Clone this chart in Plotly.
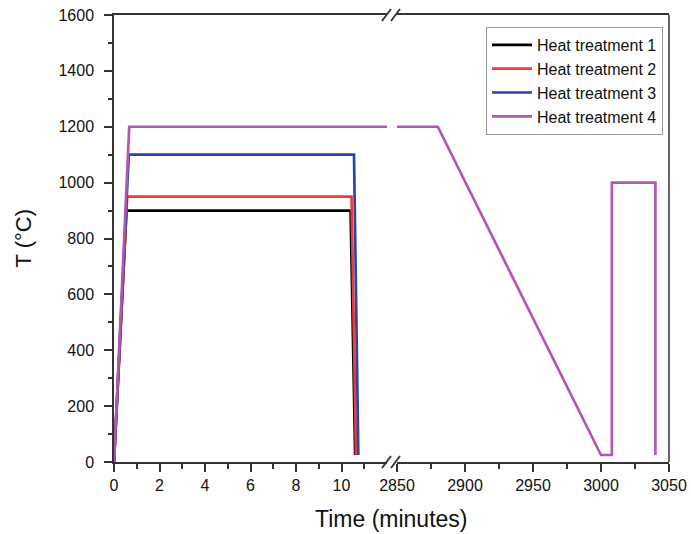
import plotly.graph_objects as go

# ---- data (minutes, °C) ----
ht1_time = [0, 0.55, 10.40, 10.60]
ht1_temp = [0, 900, 900, 25]
ht2_time = [0, 0.58, 10.44, 10.64]
ht2_temp = [0, 950, 950, 25]
ht3_time = [0, 0.65, 10.55, 10.74]
ht3_temp = [0, 1100, 1100, 25]
ht4_time = [0, 0.67, 2880, 3000, 3008, 3008, 3040, 3040]
ht4_temp = [0, 1200, 1200, 25, 25, 1000, 1000, 25]

names = ["Heat treatment 1", "Heat treatment 2", "Heat treatment 3", "Heat treatment 4"]
colors = ["#000000", "#f23a3a", "#2a45a5", "#b355b3"]
series = [(ht1_time, ht1_temp), (ht2_time, ht2_temp), (ht3_time, ht3_temp), (ht4_time, ht4_temp)]

left_range = [0, 12]
right_range = [2850, 3050]
left_ticks = [0, 2, 4, 6, 8, 10]
left_minor = [1, 3, 5, 7, 9, 11]
right_ticks = [2850, 2900, 2950, 3000, 3050]
right_minor = [2875, 2925, 2975, 3025]
y_ticks = list(range(0, 1601, 200))
y_minor = list(range(100, 1600, 200))

FONT = "Liberation Sans, Arial, sans-serif"
AX = "#333333"
TICKSIZE = 16

fig = go.Figure()
for (t, v), n, c in zip(series, names, colors):
    fig.add_trace(go.Scatter(x=t, y=v, mode="lines", name=n, legendgroup=n,
                             line=dict(color=c, width=2.7), xaxis="x", yaxis="y"))
    fig.add_trace(go.Scatter(x=t, y=v, mode="lines", name=n, legendgroup=n, showlegend=False,
                             line=dict(color=c, width=2.7), xaxis="x2", yaxis="y"))

W, H = 691, 534
L, T = 114, 15
pw, ph = 555, 447
R, B = W - L - pw, H - T - ph

def px(xp):  # page pixel -> paper x
    return (xp - L) / pw

def py(yp):  # page pixel -> paper y
    return (T + ph - yp) / ph

xcommon = dict(showline=True, linecolor=AX, linewidth=1.5, mirror=True, ticks="outside",
               ticklen=8, tickwidth=1.5, tickcolor=AX, showgrid=False, zeroline=False,
               tickfont=dict(size=TICKSIZE, color="#111", family=FONT), anchor="y",
               tickmode="array", automargin=False, ticklabeloverflow="allow")

fig.update_layout(
    template="none",
    width=W, height=H,
    margin=dict(l=L, r=R, t=T, b=B, autoexpand=False),
    paper_bgcolor="white", plot_bgcolor="white",
    font=dict(family=FONT, color="#111"),
    xaxis=dict(domain=[0, px(387)], range=left_range, tickvals=left_ticks,
               minor=dict(tickmode="array", tickvals=left_minor, ticklen=5, tickwidth=1.5,
                          tickcolor=AX, ticks="outside"), **xcommon),
    xaxis2=dict(domain=[px(397), 1], range=right_range, tickvals=right_ticks,
                minor=dict(tickmode="array", tickvals=right_minor, ticklen=5, tickwidth=1.5,
                           tickcolor=AX, ticks="outside"), **xcommon),
    yaxis=dict(domain=[0, 1], range=[0, 1600], tickmode="array", tickvals=y_ticks,
               minor=dict(tickmode="array", tickvals=y_minor, ticklen=4, tickwidth=1.5,
                          tickcolor=AX, ticks="outside"),
               showline=True, linecolor=AX, linewidth=1.5, ticks="outside", ticklen=8,
               tickwidth=1.5, tickcolor=AX, showgrid=False, zeroline=False,
               tickfont=dict(size=TICKSIZE, color="#111", family=FONT), anchor="x",
               ticklabelstandoff=7, automargin=False, ticklabeloverflow="allow"),
    legend=dict(x=px(486), y=py(27), xanchor="left", yanchor="top",
                bgcolor="white", bordercolor="#999999", borderwidth=1,
                font=dict(size=16, color="#111", family=FONT), tracegroupgap=0,
                itemwidth=40),
    showlegend=True,
)

# right border of plot frame
fig.add_shape(type="line", xref="paper", yref="paper", x0=1, x1=1, y0=0, y1=1,
              line=dict(color=AX, width=1.5))

# axis break marks
for yc in (15, 462):
    for x0 in (382, 391):
        fig.add_shape(type="line", xref="paper", yref="paper",
                      x0=px(x0), y0=py(yc + 6), x1=px(x0 + 9), y1=py(yc - 6),
                      line=dict(color=AX, width=1.8))

fig.add_annotation(text="Time (minutes)", xref="paper", yref="paper", x=0.5, y=py(519),
                   xanchor="center", yanchor="middle", showarrow=False,
                   font=dict(size=23, color="#111", family=FONT))
fig.add_annotation(text="T (°C)", xref="paper", yref="paper", x=px(23), y=0.5,
                   xanchor="center", yanchor="middle", showarrow=False, textangle=-90,
                   font=dict(size=22, color="#111", family=FONT))

fig.write_html("out.html",
               config={"displayModeBar": False},
               post_script="document.body.style.margin='0px';document.body.style.overflow='hidden';")
